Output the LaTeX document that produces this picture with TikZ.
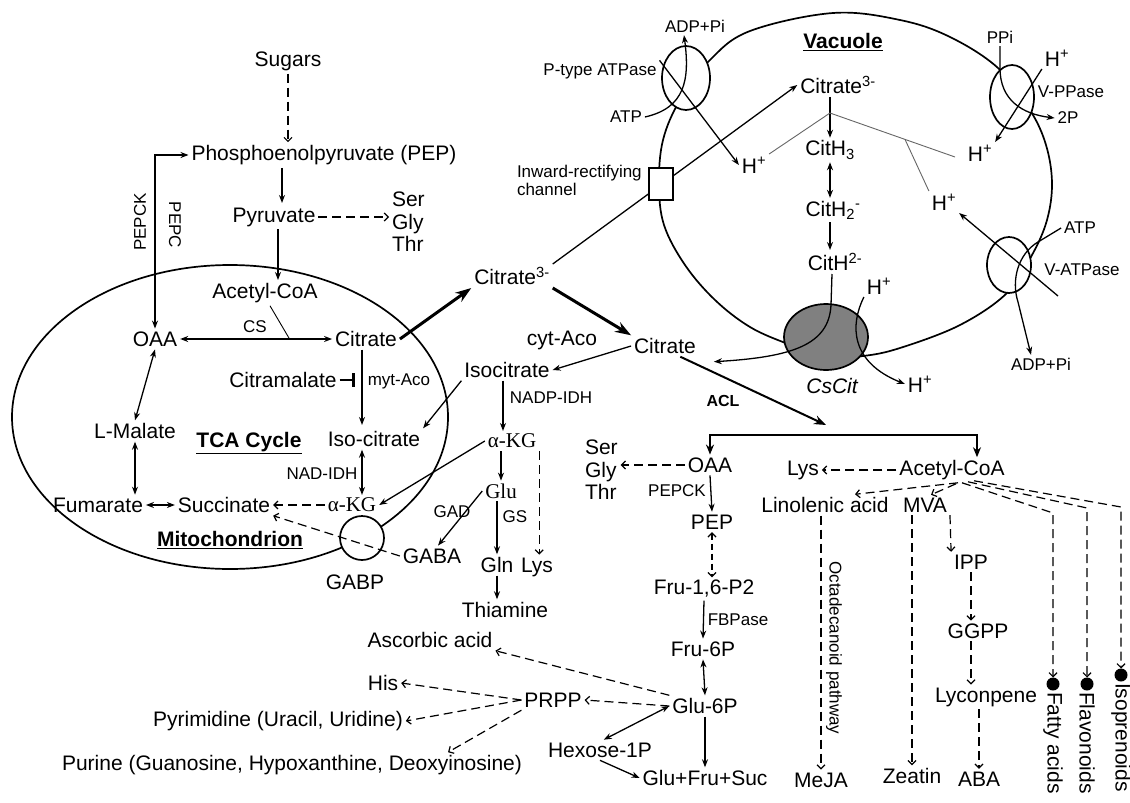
\documentclass[tikz,border=0pt]{standalone}
\usepackage{fontspec}
\setmainfont{Liberation Sans}
\newfontfamily\srffont{Liberation Serif}
\usetikzlibrary{arrows.meta,shapes.geometric,calc}
\begin{document}
\begin{tikzpicture}[x=1pt,y=-1pt,
 every node/.style={inner sep=1pt, outer sep=2pt, font=\fontsize{21}{22.5}\selectfont},
 sml/.style={font=\fontsize{17}{18}\selectfont},
 srfn/.style={font=\srffont\fontsize{21}{22.5}\selectfont},
 bld/.style={font=\bfseries\fontsize{21}{22.5}\selectfont},
 arr/.style={-{Stealth[length=8pt,width=6pt]}, line width=1.3pt},
 dbl/.style={{Stealth[length=8pt,width=6pt]}-{Stealth[length=8pt,width=6pt]}, line width=1.3pt},
 darr/.style={-{Straight Barb[length=4pt,width=8pt]}, line width=1.2pt, dash pattern=on 9pt off 5pt},
 ddbl/.style={{Straight Barb[length=4pt,width=8pt]}-{Straight Barb[length=4pt,width=8pt]}, line width=1.2pt, dash pattern=on 6pt off 4pt},
 thk/.style={-{Stealth[length=16pt,width=11pt]}, line width=3pt},
 memb/.style={line width=1.7pt},
 gline/.style={line width=0.9pt, black!60},
 blob/.style={circle, fill=black, minimum size=13pt, inner sep=0pt, outer sep=0pt},
]
\fill[white] (0,0) rectangle (1130,803);
\useasboundingbox (0,0) rectangle (1130,803);

% ---------- text nodes: left part
\node (sugars) at (288,61) {Sugars};
\node (pep) at (324,155) {Phosphoenolpyruvate (PEP)};
\node (pyr) at (274,217) {Pyruvate};
\node[align=left, anchor=west] (sgt1) at (389,222) {Ser\\Gly\\Thr};
\node[sml, rotate=90] (pepck1) at (140,222) {PEPCK};
\node[sml, rotate=-90] (pepc1) at (175,225) {PEPC};
\node (acoa1) at (265,293) {Acetyl-CoA};
\node (oaa1) at (155,339) {OAA};
\node (cit1) at (366,339) {Citrate};
\node[sml] (cs) at (255,327) {CS};
\node (citram) at (283,380) {Citramalate};
\node[sml] (mytaco) at (399,381) {myt-Aco};
\node (isocit1) at (374,439) {Iso-citrate};
\node[sml] (nadidh) at (322,474) {NAD-IDH};
\node[srfn] (akg1) at (352,505) {α-KG};
\node (succ) at (224,505) {Succinate};
\node (fum) at (98,505) {Fumarate};
\node (lmal) at (135,431) {L-Malate};
\node[bld] (tca) at (249,443) {\underline{TCA Cycle}};
\node[bld] (mitol) at (230,540) {\underline{Mitochondrion}};
\node (gabpl) at (355,582) {GABP};
\node (gaba) at (432,556) {GABA};

% ---------- cytosol
\node (cit3) at (512,276) {Citrate\textsuperscript{3-}};
\node (cit2) at (665,346) {Citrate};
\node (cytaco) at (562,340) {cyt-Aco};
\node (isocit2) at (507,370) {Isocitrate};
\node[sml] (nadpidh) at (551,398) {NADP-IDH};
\node[srfn] (akg2) at (512,441) {α-KG};
\node[srfn] (glu) at (501,491) {Glu};
\node[sml] (gad) at (452,512) {GAD};
\node[sml] (gs) at (515,517) {GS};
\node (gln) at (497,565) {Gln};
\node (lys1) at (537,567) {Lys};
\node (thia) at (505,610) {Thiamine};
\node (asc) at (430,640) {Ascorbic acid};
\node (his) at (383,683) {His};
\node (pyrim) at (278,721) {Pyrimidine (Uracil, Uridine)};
\node (purine) at (292,765) {Purine (Guanosine, Hypoxanthine, Deoxyinosine)};
\node (prpp) at (553,700) {PRPP};
\node (g6p) at (705,706) {Glu-6P};
\node (f6p) at (703,649) {Fru-6P};
\node (f16) at (704,589) {Fru-1,6-P2};
\node[sml] (fbp) at (738,620) {FBPase};
\node (gfs) at (705,778) {Glu+Fru+Suc};
\node (hex) at (600,750) {Hexose-1P};
\node (pep2) at (712,522) {PEP};
\node (oaa2) at (710,465) {OAA};
\node[sml] (pepck2) at (677,491) {PEPCK};
\node[align=left, anchor=west] (sgt2) at (582,470) {Ser\\Gly\\Thr};
\node[font=\bfseries\fontsize{16}{18}\selectfont] (acl) at (723,401) {ACL};
\node (acoa2) at (952,470) {Acetyl-CoA};
\node (lys2) at (803,470) {Lys};
\node (linol) at (825,505) {Linolenic acid};
\node (mva) at (925,505) {MVA};
\node (ipp) at (971,562) {IPP};
\node (ggpp) at (978,631) {GGPP};
\node (lyc) at (986,697) {Lyconpene};
\node (aba) at (979,779) {ABA};
\node (zeatin) at (912,776) {Zeatin};
\node (meja) at (821,780) {MeJA};
\node[sml, rotate=-90] (octa) at (834,648) {Octadecanoid pathway};
\node[blob] (dot1) at (1053,684) {};
\node[blob] (dot2) at (1087,684) {};
\node[blob] (dot3) at (1121,675) {};
\node[rotate=-90, anchor=west] (fatty) at (1053,689) {Fatty acids};
\node[rotate=-90, anchor=west] (flav) at (1087,689) {Flavonoids};
\node[rotate=-90, anchor=west] (isop) at (1121,680) {Isoprenoids};

% ---------- vacuole texts
\node[bld] (vacl) at (843,42) {\underline{Vacuole}};
\node (citv) at (838,85) {Citrate\textsuperscript{3-}};
\node (cith3) at (830,150) {CitH\textsubscript{3}};
\node (cith2m) at (833,210) {CitH\textsubscript{2}\textsuperscript{-}};
\node (cith2) at (835,262) {CitH\textsuperscript{2-}};
\node[font=\itshape\fontsize{21}{22.5}\selectfont] (cscitl) at (832,386) {CsCit};
\node (hL) at (754,165) {H\textsuperscript{+}};
\node (hM) at (944,202) {H\textsuperscript{+}};
\node (hR) at (980,153) {H\textsuperscript{+}};
\node (hTop) at (1057,58) {H\textsuperscript{+}};
\node (hCs) at (879,286) {H\textsuperscript{+}};
\node (hCsOut) at (920,384) {H\textsuperscript{+}};
\node[sml] (ppi) at (1000,37) {PPi};
\node[sml] (twop) at (1068,118) {2P};
\node[sml] (vpp) at (1071,92) {V-PPase};
\node[sml] (atpR) at (1080,228) {ATP};
\node[sml] (vatp) at (1082,270) {V-ATPase};
\node[sml] (adpR) at (1041,364) {ADP+Pi};
\node[sml] (ptype) at (600,71) {P-type ATPase};
\node[sml] (adpL) at (695,26) {ADP+Pi};
\node[sml] (atpL) at (626,117) {ATP};
\node[sml, align=left, anchor=west] (inw) at (514,180) {Inward-rectifying\\channel};

% ---------- compartments
\node[draw, ellipse, memb, minimum width=436pt, minimum height=304pt, inner sep=0pt] (mitoell) at (230,417) {};
\draw[memb] plot[smooth cycle, tension=0.6] coordinates {(750,31) (833,13) (900,20) (950,37) (998,68) (1030,110) (1046,145) (1052,183) (1047,220) (1032,255) (1007,293) (960,325) (900,348) (863,356) (826,357) (788,344) (750,327) (715,300) (685,265) (664,225) (659,184) (663,140) (680,100) (710,60)};

% citrate import through channel (line hidden by channel box)
\draw[arr] (cit3.north east) -- (citv.west);
\node[draw, fill=white, line width=1.3pt, minimum width=24pt, minimum height=32pt, inner sep=0pt] (chan) at (661,184) {};

% transporters
\node[draw, ellipse, fill=white, memb, minimum width=48pt, minimum height=64pt, inner sep=0pt] (ptell) at (686,78) {};
\node[draw, ellipse, fill=white, memb, minimum width=44pt, minimum height=64pt, inner sep=0pt] (vppell) at (1012,97) {};
\node[draw, ellipse, fill=white, memb, minimum width=44pt, minimum height=56pt, inner sep=0pt] (vatpell) at (1009,265) {};
\node[draw, ellipse, fill=black!50, memb, minimum width=84pt, minimum height=66pt, inner sep=0pt] (cscit) at (826,337) {};
\node[draw, circle, fill=white, memb, minimum size=44pt, inner sep=0pt] (gabp) at (362,538) {};

% ---------- connectors: glycolysis / mitochondrion
\draw[darr] (sugars.south) -- (sugars.south |- pep.north);
\draw[arr] (pep.south -| 282,0) -- (282,203);
\draw[darr] (pyr.east) -- (pyr.east -| sgt1.west);
\draw[arr] (pyr.south -| 278,0) -- (278,280);
\draw[dbl] (oaa1.north) -- (oaa1.north |- pep.west) -- (pep.west);
\draw[dbl] (oaa1.east) -- (cit1.west);
\draw[line width=0.9pt] ([xshift=5pt]acoa1.south) -- ($(oaa1.east)!0.72!(cit1.west)$);
\draw[dbl] (oaa1.south) -- (lmal.north);
\draw[dbl] (lmal.south) -- (lmal.south |- fum.north);
\draw[dbl] (fum.east) -- (succ.west);
\draw[arr] (cit1.south -| 362,0) -- (362,425);
\draw[line width=1.3pt] (citram.east) -- ++(14,0) coordinate (inh);
\draw[line width=3.2pt] ($(inh)+(0,-7)$) -- ($(inh)+(0,7)$);
\draw[dbl] (isocit1.south -| 362,0) -- (akg1.north -| 362,0);
\draw[darr] (akg1.west) -- (succ.east);
\draw[darr] (gaba.west) -- (succ.south east);

% ---------- cytosol connectors
\draw[thk] (cit1.east) -- (cit3.south west);
\draw[thk] (cit3.south east) -- (cit2.north west);
\draw[arr] (cit2.west) -- (isocit2.east);
\draw[arr] (isocit2.south west) -- (isocit1.north east);
\draw[arr] (isocit2.south -| 503,0) -- (akg2.north -| 503,0);
\draw[arr] (akg2.west) -- (akg1.east);
\draw[arr] (akg2.south -| glu.north) -- (glu.north);
\draw[darr] (akg2.south east) -- (akg2.south east |- lys1.north);
\draw[arr] (glu.south -| gln.north) -- (gln.north);
\draw[arr] (glu.west) -- (gaba.60);
\draw[arr] (gln.south) -- (gln.south |- thia.north);
\draw[darr] (g6p.west) -- (prpp.east);
\draw[darr] (g6p.north west) -- (asc.south east);
\draw[darr] (prpp.west) -- (his.east);
\draw[darr] (prpp.west) -- (pyrim.east);
\draw[darr] (prpp.south west) -- ($(purine.north)+(156,0)$);
\draw[arr] (f16.south) -- (f6p.north);
\draw[dbl] (f6p.south) -- (g6p.north);
\draw[arr] (g6p.south) -- (gfs.north);
\draw[dbl] (hex.70) -- (g6p.west);
\draw[arr] (hex.south) -- (gfs.west);
\draw[darr] (oaa2.west) -- (oaa2.west -| sgt2.east);
\draw[arr] (oaa2.south) -- (pep2.north);
\draw[ddbl] (pep2.south) -- (pep2.south |- f16.north);
\coordinate (aclend) at (826,425);
\draw[-{Stealth[length=12pt,width=9pt]}, line width=2pt] (cit2.-35) -- (aclend);
\coordinate (br1) at (710,435);
\coordinate (br2) at (977,435);
\draw[{Stealth[length=10pt,width=8pt]}-{Stealth[length=10pt,width=8pt]}, line width=2.5pt] (oaa2.north) -- (oaa2.north |- br1) -- (br2) -- (br2 |- acoa2.north);
\draw[darr] (acoa2.west) -- (lys2.east);
\draw[darr] ($(acoa2.south)+(6,0)$) -- ($(linol.north)+(30,0)$);
\draw[darr] ($(acoa2.south)+(4,1)$) -- ($(mva.north)+(6,0)$);
\coordinate (k1) at (1053,513);
\coordinate (k2) at (1087,508);
\coordinate (k3) at (1121,507);
\draw[darr] ($(acoa2.south)+(10,0)$) -- (k1) -- (dot1.north);
\draw[darr] ($(acoa2.south)+(16,-1)$) -- (k2) -- (dot2.north);
\draw[darr] ($(acoa2.south)+(22,-2)$) -- (k3) -- (dot3.north);
\draw[darr] (linol.south -| meja.north) -- (meja.north);
\draw[darr] (mva.south -| zeatin.north) -- (zeatin.north);
\draw[darr] (mva.south east) -- (ipp.north west);
\draw[darr] (ipp.south) -- (ipp.south |- ggpp.north);
\draw[darr] (ggpp.south -| ipp.south) -- (lyc.north -| ipp.south);
\draw[darr] (lyc.south -| aba.north) -- (aba.north);

% ---------- vacuole connectors
\draw[arr] (cith3.north |- citv.south) -- (cith3.north);
\coordinate (gJ) at (830,113);
\coordinate (gR) at (955,157);
\draw[gline] (hL.north east) -- (gJ) -- (gR);
\draw[gline] ($(gJ)!0.6!(gR)$) -- (hM.north west);
\draw[dbl] (cith3.south) -- (cith3.south |- cith2m.north);
\draw[arr] (cith3.south |- cith2m.south) -- (cith3.south |- cith2.north);
\draw[arr] (cith2.south -| 832,0) -- (831,305) .. controls (829,345) and (792,357) .. ($(cit2.south east)+(15,5)$);
\draw[arr] (hCs.south west) .. controls (850,325) and (850,362) .. (hCsOut.west);
\draw[arr] (ptype.north east) -- (hL.west);
\draw[arr] (atpL.east) .. controls (685,108) and (690,80) .. ($(adpL.south)+(-11,0)$);
\draw[arr] (ppi.south) -- ++(0,22) .. controls (1000,100) and (1022,114) .. (twop.west);
\draw[arr] (hTop.south west) -- (hR.north east);
\draw[arr] (atpR.west) -- (1038,242) .. controls (1018,254) and (1011,280) .. (1018,302) -- ($(adpR.north)+(-10,0)$);
\coordinate (vh) at (1058,296);
\draw[arr] (vh) -- (hM.south east);
\end{tikzpicture}
\end{document}
